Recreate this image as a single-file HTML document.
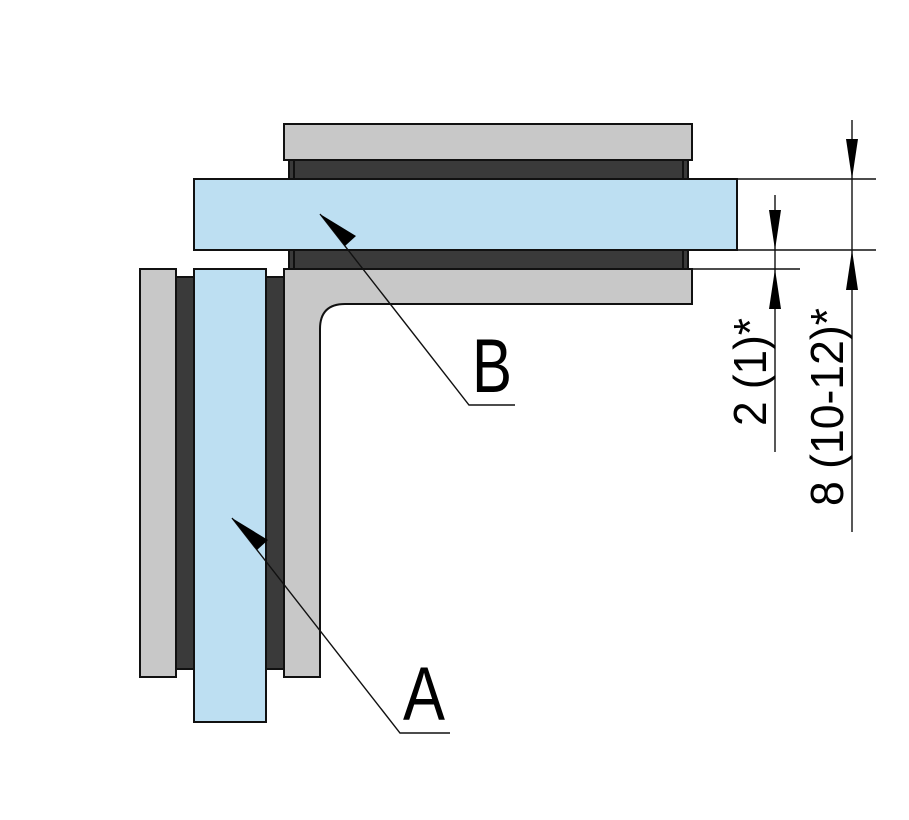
<!DOCTYPE html>
<html><head><meta charset="utf-8"><style>html,body{margin:0;padding:0;background:#fff;width:909px;height:820px;overflow:hidden}</style></head>
<body>
<svg width="909" height="820" viewBox="0 0 909 820" xmlns="http://www.w3.org/2000/svg" font-family="Liberation Sans, sans-serif">
<g stroke="#111" stroke-width="2">
<rect x="289" y="160" width="399" height="19" fill="#3a3a3a"/>
<rect x="289" y="250" width="399" height="19" fill="#3a3a3a"/>
<rect x="176" y="277" width="19" height="392" fill="#3a3a3a"/>
<rect x="266" y="277" width="18" height="392" fill="#3a3a3a"/>
<line x1="294" y1="160" x2="294" y2="179"/><line x1="683" y1="160" x2="683" y2="179"/>
<line x1="294" y1="250" x2="294" y2="269"/><line x1="683" y1="250" x2="683" y2="269"/>
<rect x="284" y="124" width="408" height="36" fill="#c8c8c8"/>
<path d="M284 269 H692 V304 H345 Q320 304 320 329 V677 H284 Z" fill="#c8c8c8"/>
<rect x="140" y="269" width="36" height="408" fill="#c8c8c8"/>
<rect x="194" y="179" width="543" height="71" fill="#bddff2"/>
<rect x="194" y="269" width="72" height="453" fill="#bddff2"/>
</g>
<g stroke="#111" stroke-width="1.4" fill="none">
<polyline points="320,214 469,405 515,405"/>
<polyline points="232,518 400,733 450,733"/>
<line x1="737" y1="179" x2="876" y2="179"/>
<line x1="737" y1="250" x2="876" y2="250"/>
<line x1="688" y1="269" x2="800" y2="269"/>
<line x1="775" y1="195" x2="775" y2="452"/>
<line x1="852" y1="120" x2="852" y2="532"/>
</g>
<g fill="#000">
<polygon points="320,214 356,236 345,246"/>
<polygon points="232,518 268,540 257,550"/>
<polygon points="775,250 769,210 781,210"/>
<polygon points="775,269 769,309 781,309"/>
<polygon points="852,179 846,139 858,139"/>
<polygon points="852,250 846,290 858,290"/>
</g>
<text x="472" y="392" font-size="76" textLength="40" lengthAdjust="spacingAndGlyphs">B</text>
<text x="403" y="720" font-size="76" textLength="42" lengthAdjust="spacingAndGlyphs">A</text>
<text transform="translate(766,426) rotate(-90)" font-size="46" textLength="108" lengthAdjust="spacingAndGlyphs">2 (1)*</text>
<text transform="translate(843,506) rotate(-90)" font-size="46" textLength="198" lengthAdjust="spacingAndGlyphs">8 (10-12)*</text>
</svg>
</body></html>
